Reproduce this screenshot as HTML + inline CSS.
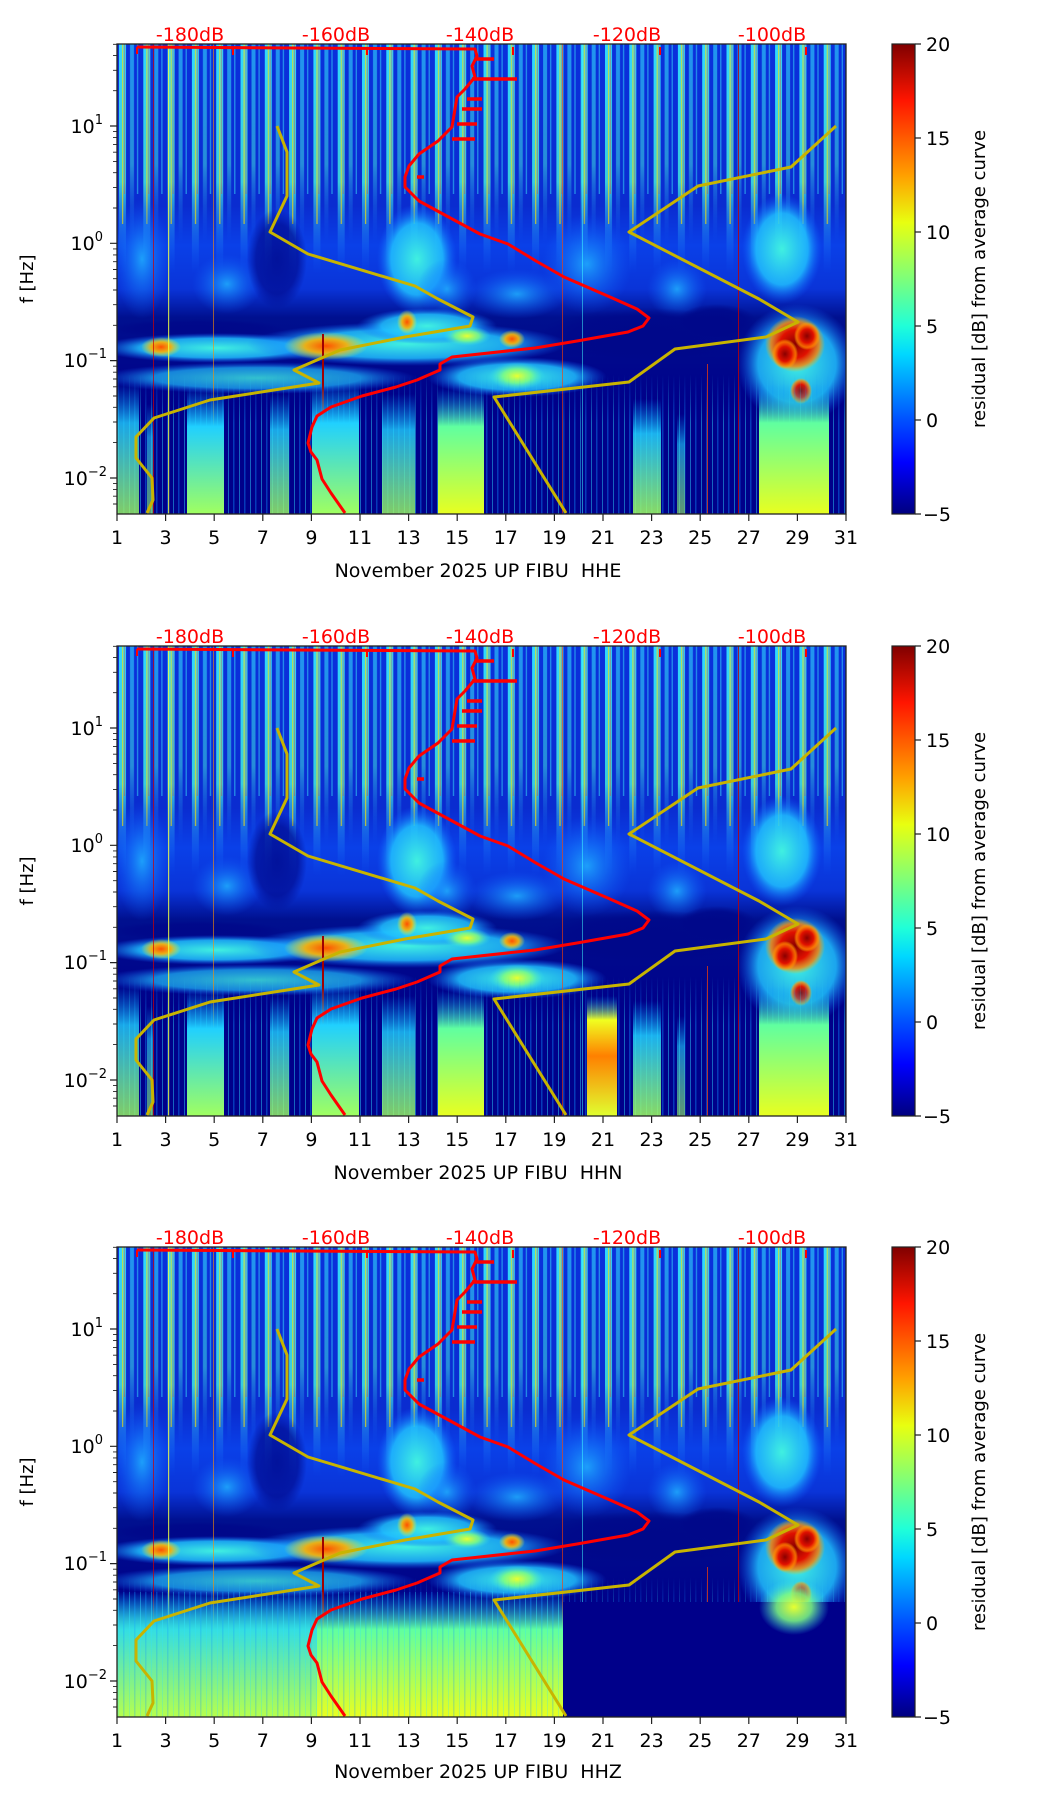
<!DOCTYPE html>
<html><head><meta charset="utf-8">
<style>
html,body{margin:0;padding:0;background:#fff;}
svg{display:block;font-family:"DejaVu Sans","Liberation Sans",sans-serif;}
</style></head>
<body>
<svg width="1052" height="1806" viewBox="0 0 1052 1806" xmlns="http://www.w3.org/2000/svg">
<defs>
  <linearGradient id="jet" x1="0" y1="1" x2="0" y2="0">
    <stop offset="0" stop-color="#00007f"/>
    <stop offset="0.11" stop-color="#0000ff"/>
    <stop offset="0.2" stop-color="#0050ff"/>
    <stop offset="0.34" stop-color="#00d8ff"/>
    <stop offset="0.4" stop-color="#20ffd8"/>
    <stop offset="0.5" stop-color="#7dff7a"/>
    <stop offset="0.62" stop-color="#e8ff10"/>
    <stop offset="0.72" stop-color="#ffa000"/>
    <stop offset="0.88" stop-color="#ff1500"/>
    <stop offset="1" stop-color="#800000"/>
  </linearGradient>
  <linearGradient id="upbg" x1="0" y1="0" x2="0" y2="1">
    <stop offset="0" stop-color="#0a30dc"/>
    <stop offset="0.45" stop-color="#0a2cd0"/>
    <stop offset="0.56" stop-color="#0a40e8"/>
    <stop offset="0.68" stop-color="#0a34d8"/>
    <stop offset="0.76" stop-color="#00108f"/>
    <stop offset="1" stop-color="#00008a"/>
  </linearGradient>
  <linearGradient id="stripeG" x1="0" y1="0" x2="0" y2="1">
    <stop offset="0" stop-color="#30d8ff" stop-opacity="1"/>
    <stop offset="0.6" stop-color="#40e8e0" stop-opacity="0.85"/>
    <stop offset="1" stop-color="#1060ff" stop-opacity="0"/>
  </linearGradient>
  <linearGradient id="colG" x1="0" y1="0" x2="0" y2="1">
    <stop offset="0" stop-color="#00a0ff" stop-opacity="0"/>
    <stop offset="0.3" stop-color="#20d0ff"/>
    <stop offset="1" stop-color="#a0ff60"/>
  </linearGradient>
  <linearGradient id="colY" x1="0" y1="0" x2="0" y2="1">
    <stop offset="0" stop-color="#00a0ff" stop-opacity="0"/>
    <stop offset="0.3" stop-color="#60ffa0"/>
    <stop offset="1" stop-color="#e8ff20"/>
  </linearGradient>
  <linearGradient id="colO" x1="0" y1="0" x2="0" y2="1">
    <stop offset="0" stop-color="#00a0ff" stop-opacity="0"/>
    <stop offset="0.2" stop-color="#f0ff20"/>
    <stop offset="0.5" stop-color="#ff8000"/>
    <stop offset="1" stop-color="#e0ff30"/>
  </linearGradient>
  <radialGradient id="rC"><stop offset="0" stop-color="#40f0e0" stop-opacity="1"/><stop offset="0.65" stop-color="#20c0ff" stop-opacity="0.85"/><stop offset="1" stop-color="#1060ff" stop-opacity="0"/></radialGradient>
  <radialGradient id="rL"><stop offset="0" stop-color="#20b0ff" stop-opacity="0.85"/><stop offset="1" stop-color="#1060ff" stop-opacity="0"/></radialGradient>
  <radialGradient id="rN"><stop offset="0" stop-color="#00088a" stop-opacity="1"/><stop offset="0.7" stop-color="#00088a" stop-opacity="0.8"/><stop offset="1" stop-color="#00088a" stop-opacity="0"/></radialGradient>
  <radialGradient id="rY"><stop offset="0" stop-color="#e8ff30"/><stop offset="0.5" stop-color="#80ff80" stop-opacity="0.85"/><stop offset="1" stop-color="#30e0f0" stop-opacity="0"/></radialGradient>
  <radialGradient id="rO"><stop offset="0" stop-color="#ff5000"/><stop offset="0.5" stop-color="#ffb000" stop-opacity="0.9"/><stop offset="1" stop-color="#e0ff40" stop-opacity="0"/></radialGradient>
  <radialGradient id="rR"><stop offset="0" stop-color="#8a0000"/><stop offset="0.5" stop-color="#e01000"/><stop offset="0.8" stop-color="#ff8000" stop-opacity="0.8"/><stop offset="1" stop-color="#ffc000" stop-opacity="0"/></radialGradient>
  <pattern id="stripes" x="0" y="0" width="24.3" height="230" patternUnits="userSpaceOnUse">
    <rect x="2" y="0" width="7" height="230" fill="url(#stripeG)"/>
    <rect x="13" y="0" width="4" height="200" fill="url(#stripeG)" opacity="0.6"/>
    <rect x="5" y="0" width="1.2" height="180" fill="#ffe000" opacity="0.7"/>
    <rect x="7" y="0" width="1" height="150" fill="#ff4000" opacity="0.4"/>
    <rect x="20" y="0" width="1.2" height="150" fill="#40ffff" opacity="0.5"/>
  </pattern>
  <pattern id="thin" x="0" y="0" width="11" height="470" patternUnits="userSpaceOnUse">
    <rect x="1" y="0" width="1" height="470" fill="#30e0ff" opacity="0.45"/>
    <rect x="6" y="0" width="1.5" height="470" fill="#1090ff" opacity="0.4"/>
  </pattern>
  <linearGradient id="thinMask" x1="0" y1="0" x2="0" y2="1">
    <stop offset="0" stop-color="#fff" stop-opacity="0"/><stop offset="0.35" stop-color="#fff" stop-opacity="1"/><stop offset="1" stop-color="#fff" stop-opacity="1"/>
  </linearGradient>
  <mask id="tm"><rect x="0" y="330" width="729" height="140" fill="url(#thinMask)"/></mask>
  <clipPath id="pclip"><rect x="0" y="0" width="729" height="470"/></clipPath>

  <g id="upper">
    <rect x="0" y="0" width="729" height="470" fill="#00008a"/>
    <rect x="0" y="0" width="729" height="360" fill="url(#upbg)"/>
    <rect x="0" y="0" width="729" height="230" fill="url(#stripes)"/>
    <ellipse cx="25" cy="215" rx="28" ry="60" fill="url(#rL)"/>
    <ellipse cx="300" cy="215" rx="40" ry="55" fill="url(#rC)"/>
    <ellipse cx="330" cy="245" rx="30" ry="30" fill="url(#rL)"/>
    <ellipse cx="470" cy="220" rx="45" ry="50" fill="url(#rL)"/>
    <ellipse cx="560" cy="245" rx="30" ry="30" fill="url(#rL)"/>
    <ellipse cx="665" cy="205" rx="40" ry="55" fill="url(#rC)"/>
    <ellipse cx="110" cy="240" rx="35" ry="30" fill="url(#rL)"/>
    <ellipse cx="400" cy="250" rx="50" ry="25" fill="url(#rL)"/>
    <ellipse cx="160" cy="215" rx="30" ry="50" fill="url(#rN)" opacity="0.8"/>
    <ellipse cx="530" cy="292" rx="110" ry="28" fill="url(#rN)"/>
    <ellipse cx="600" cy="278" rx="40" ry="18" fill="url(#rN)"/>
    <ellipse cx="80" cy="285" rx="90" ry="10" fill="url(#rN)"/>
    <!-- band -->
    <ellipse cx="100" cy="304" rx="120" ry="15" fill="url(#rC)"/>
    <ellipse cx="290" cy="300" rx="160" ry="22" fill="url(#rC)"/>
    <ellipse cx="310" cy="282" rx="70" ry="18" fill="url(#rC)"/>
    <ellipse cx="140" cy="334" rx="160" ry="16" fill="url(#rC)" opacity="0.8"/>
    <ellipse cx="400" cy="333" rx="90" ry="20" fill="url(#rC)"/>
    <ellipse cx="680" cy="320" rx="60" ry="60" fill="url(#rC)"/>
    <ellipse cx="44" cy="303" rx="20" ry="10" fill="url(#rO)"/>
    <ellipse cx="209" cy="302" rx="42" ry="14" fill="url(#rO)"/>
    <ellipse cx="290" cy="278" rx="10" ry="12" fill="url(#rO)"/>
    <ellipse cx="395" cy="295" rx="13" ry="9" fill="url(#rO)"/>
    <ellipse cx="350" cy="292" rx="24" ry="10" fill="url(#rY)"/>
    <ellipse cx="400" cy="332" rx="28" ry="14" fill="url(#rY)"/>
    <ellipse cx="678" cy="300" rx="30" ry="28" fill="url(#rR)"/>
    <ellipse cx="668" cy="310" rx="13" ry="15" fill="url(#rR)"/>
    <ellipse cx="690" cy="292" rx="13" ry="14" fill="url(#rR)"/>
    <ellipse cx="684" cy="347" rx="11" ry="13" fill="url(#rR)"/>
    <rect x="0" y="0" width="729" height="470" fill="url(#thin)" mask="url(#tm)"/>
    <rect x="51" y="0" width="1.2" height="470" fill="#f0ff40" opacity="0.8"/>
    <rect x="36" y="0" width="1" height="470" fill="#d00000" opacity="0.7"/>
    <rect x="205" y="290" width="2" height="180" fill="#a00000"/>
    <rect x="96" y="0" width="1" height="470" fill="#ff9000" opacity="0.6"/>
    <rect x="445" y="0" width="1" height="470" fill="#ff4000" opacity="0.6"/>
    <rect x="621" y="0" width="1" height="470" fill="#c00000" opacity="0.8"/>
    <rect x="465" y="0" width="1" height="470" fill="#40ffff" opacity="0.5"/>
    <rect x="590" y="320" width="1" height="150" fill="#ff4000" opacity="0.7"/>
  </g>

  <g id="lowerA">
    <rect x="0" y="340" width="22" height="130" fill="url(#colG)" opacity="0.8"/>
    <rect x="70" y="345" width="37" height="125" fill="url(#colG)"/>
    <rect x="153" y="350" width="19" height="120" fill="url(#colG)" opacity="0.8"/>
    <rect x="195" y="340" width="47" height="130" fill="url(#colG)"/>
    <rect x="265" y="350" width="33" height="120" fill="url(#colG)" opacity="0.8"/>
    <rect x="321" y="345" width="46" height="125" fill="url(#colY)"/>
    <rect x="516" y="355" width="28" height="115" fill="url(#colG)" opacity="0.85"/>
    <rect x="642" y="340" width="70" height="130" fill="url(#colY)"/>
    <rect x="560" y="370" width="8" height="100" fill="url(#colG)" opacity="0.6"/>
    <rect x="30" y="360" width="6" height="110" fill="url(#colG)" opacity="0.6"/>
  </g>

  <g id="redc" fill="none" stroke="#ff0000" stroke-width="3" stroke-linejoin="round">
    <path d="M20,3 L358,5 L360,12 L355,22 L358,33 L348,45 L340,53 L338,65 L335,83 L321,97 L302,110 L292,122 L288,133 L288,143 L302,157 L326,170 L363,190 L391,200 L419,217 L447,233 L493,253 L520,265 L532,274 L526,282 L511,288 L460,297 L418,304 L335,313 L323,320 L323,326 L300,336 L279,343 L245,352 L214,363 L200,372 L195,383 L191,399 L194,408 L200,416 L205,435 L214,449 L228,469"/>
    <path d="M358,15 L377,15 M355,35 L400,35 M350,55 L365,55 M345,65 L365,65 M340,80 L360,80 M335,95 L358,95 M300,133 L307,133" stroke-width="3.5"/>
    <path d="M20,3 L20,10 M116,3 L116,11 M250,3 L250,11 M396,3 L396,11 M543,3 L543,11 M689,3 L689,11" stroke-width="2"/>
  </g>
  <g id="yelc" fill="none" stroke="#c8b400" stroke-width="3" stroke-linejoin="round">
    <path d="M160,82 L170,108 L170,152 L153,188 L191,210 L298,242 L321,255 L356,273 L353,282 L288,293 L223,306 L177,326 L202,339 L93,356 L37,374 L19,393 L19,414 L35,434 L36,456 L30,469"/>
    <path d="M719,82 L674,123 L581,142 L512,188 L642,255 L681,278 L649,293 L558,305 L512,338 L377,353 L449,469"/>
  </g>

  <g id="yticks" stroke="#222" stroke-width="1.2">
    <path d="M0,82 h-7 M0,199.3 h-7 M0,316.6 h-7 M0,434 h-7"/>
    <path stroke-width="0.9" d="M0,46.7 h-4 M0,26.3 h-4 M0,11.6 h-4 M0,0.3 h-4
      M0,164 h-4 M0,143.4 h-4 M0,128.7 h-4 M0,117.4 h-4 M0,108.2 h-4 M0,100.4 h-4 M0,93.6 h-4 M0,87.6 h-4
      M0,281.3 h-4 M0,260.7 h-4 M0,246 h-4 M0,234.7 h-4 M0,225.5 h-4 M0,217.7 h-4 M0,210.9 h-4 M0,204.9 h-4
      M0,398.6 h-4 M0,378 h-4 M0,363.3 h-4 M0,352 h-4 M0,342.8 h-4 M0,335 h-4 M0,328.2 h-4 M0,322.2 h-4
      M0,460 h-4 M0,452.2 h-4 M0,445.4 h-4 M0,439.4 h-4"/>
  </g>
  <g id="xticks" stroke="#222" stroke-width="1.2">
    <path d="M0,470 v7 M48.6,470 v7 M97.2,470 v7 M145.8,470 v7 M194.4,470 v7 M243,470 v7 M291.6,470 v7 M340.2,470 v7 M388.8,470 v7 M437.4,470 v7 M486,470 v7 M534.6,470 v7 M583.2,470 v7 M631.8,470 v7 M680.4,470 v7 M729,470 v7"/>
  </g>
  <g id="labels" font-size="19" fill="#000">
    <g text-anchor="middle">
      <text x="0" y="500">1</text><text x="48.6" y="500">3</text><text x="97.2" y="500">5</text><text x="145.8" y="500">7</text>
      <text x="194.4" y="500">9</text><text x="243" y="500">11</text><text x="291.6" y="500">13</text><text x="340.2" y="500">15</text>
      <text x="388.8" y="500">17</text><text x="437.4" y="500">19</text><text x="486" y="500">21</text><text x="534.6" y="500">23</text>
      <text x="583.2" y="500">25</text><text x="631.8" y="500">27</text><text x="680.4" y="500">29</text><text x="729" y="500">31</text>
    </g>
    <g text-anchor="end">
      <text x="-14" y="89">10<tspan font-size="13" dy="-9">1</tspan></text>
      <text x="-14" y="206">10<tspan font-size="13" dy="-9">0</tspan></text>
      <text x="-10" y="323">10<tspan font-size="13" dy="-9">−1</tspan></text>
      <text x="-10" y="441">10<tspan font-size="13" dy="-9">−2</tspan></text>
    </g>
    <g fill="#ff0000" text-anchor="middle">
      <text x="73" y="-3">-180dB</text><text x="219" y="-3">-160dB</text><text x="363" y="-3">-140dB</text>
      <text x="510" y="-3">-120dB</text><text x="655" y="-3">-100dB</text>
    </g>
    <text transform="translate(-84,235) rotate(-90)" text-anchor="middle" font-size="18">f [Hz]</text>
  </g>
  <g id="cbar">
    <rect x="775" y="0" width="23" height="470" fill="url(#jet)" stroke="#222" stroke-width="1.2"/>
    <g stroke="#222" stroke-width="1.2">
      <path d="M798,0 h6 M798,94 h6 M798,188 h6 M798,282 h6 M798,376 h6 M798,470 h6"/>
    </g>
    <g font-size="19" fill="#000">
      <text x="809" y="7">20</text><text x="809" y="101">15</text><text x="809" y="195">10</text>
      <text x="809" y="289">5</text><text x="809" y="383">0</text><text x="806" y="477">−5</text>
    </g>
    <text transform="translate(868,235) rotate(-90)" text-anchor="middle" font-size="18">residual [dB] from average curve</text>
  </g>
</defs>

<g transform="translate(117,44)">
  <g clip-path="url(#pclip)">
    <use href="#upper"/><use href="#lowerA"/><use href="#yelc"/><use href="#redc"/>
  </g>
  <rect x="0" y="0" width="729" height="470" fill="none" stroke="#222" stroke-width="1.3"/>
  <use href="#yticks"/><use href="#xticks"/><use href="#labels"/><use href="#cbar"/>
  <text x="361" y="533" text-anchor="middle" font-size="19" xml:space="preserve">November 2025 UP FIBU  HHE</text>
</g>

<g transform="translate(117,646)">
  <g clip-path="url(#pclip)">
    <use href="#upper"/><use href="#lowerA"/>
    <rect x="470" y="350" width="30" height="120" fill="url(#colO)"/>
    <use href="#yelc"/><use href="#redc"/>
  </g>
  <rect x="0" y="0" width="729" height="470" fill="none" stroke="#222" stroke-width="1.3"/>
  <use href="#yticks"/><use href="#xticks"/><use href="#labels"/><use href="#cbar"/>
  <text x="361" y="533" text-anchor="middle" font-size="19" xml:space="preserve">November 2025 UP FIBU  HHN</text>
</g>

<g transform="translate(117,1247)">
  <g clip-path="url(#pclip)">
    <use href="#upper"/>
    <rect x="0" y="345" width="446" height="125" fill="url(#colY)"/>
    <rect x="0" y="345" width="200" height="125" fill="url(#colG)" opacity="0.7"/>
    <rect x="0" y="345" width="446" height="125" fill="url(#thin)" opacity="0.6"/>
    <rect x="446" y="355" width="283" height="115" fill="#00008a"/>
    <ellipse cx="677" cy="360" rx="35" ry="28" fill="url(#rY)"/>
    <use href="#yelc"/><use href="#redc"/>
  </g>
  <rect x="0" y="0" width="729" height="470" fill="none" stroke="#222" stroke-width="1.3"/>
  <use href="#yticks"/><use href="#xticks"/><use href="#labels"/><use href="#cbar"/>
  <text x="361" y="531" text-anchor="middle" font-size="19" xml:space="preserve">November 2025 UP FIBU  HHZ</text>
</g>
</svg>
</body></html>
